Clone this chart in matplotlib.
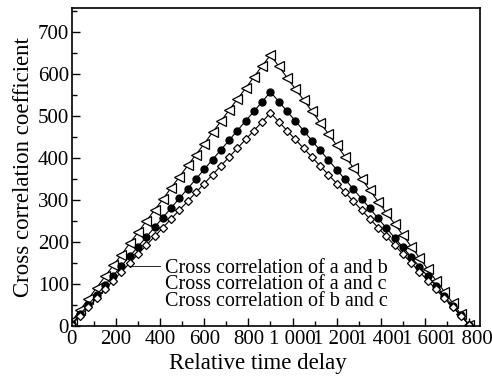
import matplotlib
matplotlib.use('Agg')
import matplotlib.pyplot as plt
from matplotlib.lines import Line2D
from matplotlib.ticker import MultipleLocator

plt.rcParams['font.family'] = ['Liberation Serif', 'DejaVu Serif']

# relative time delay (sample positions)
delay = [0, 37.5, 75, 112.5, 150, 187.5, 225, 262.5, 300, 337.5, 375, 412.5,
         450, 487.5, 525, 562.5, 600, 637.5, 675, 712.5, 750, 787.5, 825, 862.5,
         900, 937.5, 975, 1012.5, 1050, 1087.5, 1125, 1162.5, 1200, 1237.5, 1275,
         1312.5, 1350, 1387.5, 1425, 1462.5, 1500, 1537.5, 1575, 1612.5, 1650,
         1687.5, 1725, 1762.5, 1800]

corr_ab = [12, 38, 65, 91, 118, 144, 170, 197, 223, 250, 276, 302, 329, 355,
           382, 408, 434, 461, 487, 514, 540, 566, 593, 619, 645,
           618, 591, 564, 538, 511, 484, 457, 430, 403, 377, 350, 323, 296,
           269, 243, 216, 189, 162, 135, 108, 82, 55, 28, 2]
corr_ac = [5, 28, 51, 74, 97, 120, 143, 166, 189, 212, 235, 258, 281, 304,
           327, 350, 373, 396, 419, 442, 465, 488, 511, 534, 557,
           534, 511, 488, 465, 441, 418, 395, 372, 349, 326, 303, 280, 256,
           233, 210, 187, 164, 141, 118, 95, 71, 48, 25, 2]
corr_bc = [3, 24, 45, 66, 87, 108, 129, 150, 171, 192, 213, 234, 255, 276,
           297, 318, 339, 360, 381, 402, 423, 444, 465, 486, 507,
           486, 465, 444, 423, 402, 381, 360, 339, 318, 297, 276, 255, 234,
           213, 192, 171, 150, 129, 108, 87, 66, 45, 24, 3]

labels = ['Cross correlation of a and b',
          'Cross correlation of a and c',
          'Cross correlation of b and c']
xticks = [0, 200, 400, 600, 800, 1000, 1200, 1400, 1600, 1800]
xticklabels = ['0', '200', '400', '600', '800', '1 000', '1 200', '1 400',
               '1 600', '1 800']

fig = plt.figure(figsize=(4.92, 3.76), dpi=100)
ax = fig.add_axes([0.146, 0.133, 0.83, 0.846])

ax.plot(delay, corr_ab, color='black', lw=0.8, marker='<', ms=6.5,
        mfc='white', mec='black', mew=0.9)
ax.plot(delay, corr_ac, color='black', lw=0.8, marker='o', ms=5,
        mfc='black', mec='black')
ax.plot(delay, corr_bc, color='black', lw=0.8, marker='D', ms=4.5,
        mfc='white', mec='black', mew=0.9)

ax.set_xlim(0, 1850)
ax.set_ylim(0, 757)
ax.set_xticks(xticks)
ax.set_xticklabels(xticklabels)
ax.xaxis.set_minor_locator(MultipleLocator(100))
ax.yaxis.set_major_locator(MultipleLocator(100))
ax.yaxis.set_minor_locator(MultipleLocator(50))
ax.tick_params(which='both', direction='in', top=False, right=False,
               labelsize=15, width=1.0)
ax.tick_params(axis='x', pad=3)
ax.tick_params(axis='y', pad=2)
ax.tick_params(which='major', length=6)
ax.tick_params(which='minor', length=3.5)
for sp in ax.spines.values():
    sp.set_linewidth(1.2)

ax.set_xlabel('Relative time delay', fontsize=16.5)
ax.xaxis.set_label_coords(0.456, -0.085)
ax.set_ylabel('Cross correlation coefficient', fontsize=16.5, labelpad=3)

handles = [Line2D([], [], color='black', lw=0.6),
           Line2D([], [], color='none'),
           Line2D([], [], color='none')]
ax.legend(handles, labels, loc='lower left', bbox_to_anchor=(0.142, 0.047),
          frameon=False, fontsize=14.5, handlelength=1.5, handletextpad=0.25,
          labelspacing=-0.12, borderpad=0, borderaxespad=0)

fig.savefig('out.png', dpi=100)
